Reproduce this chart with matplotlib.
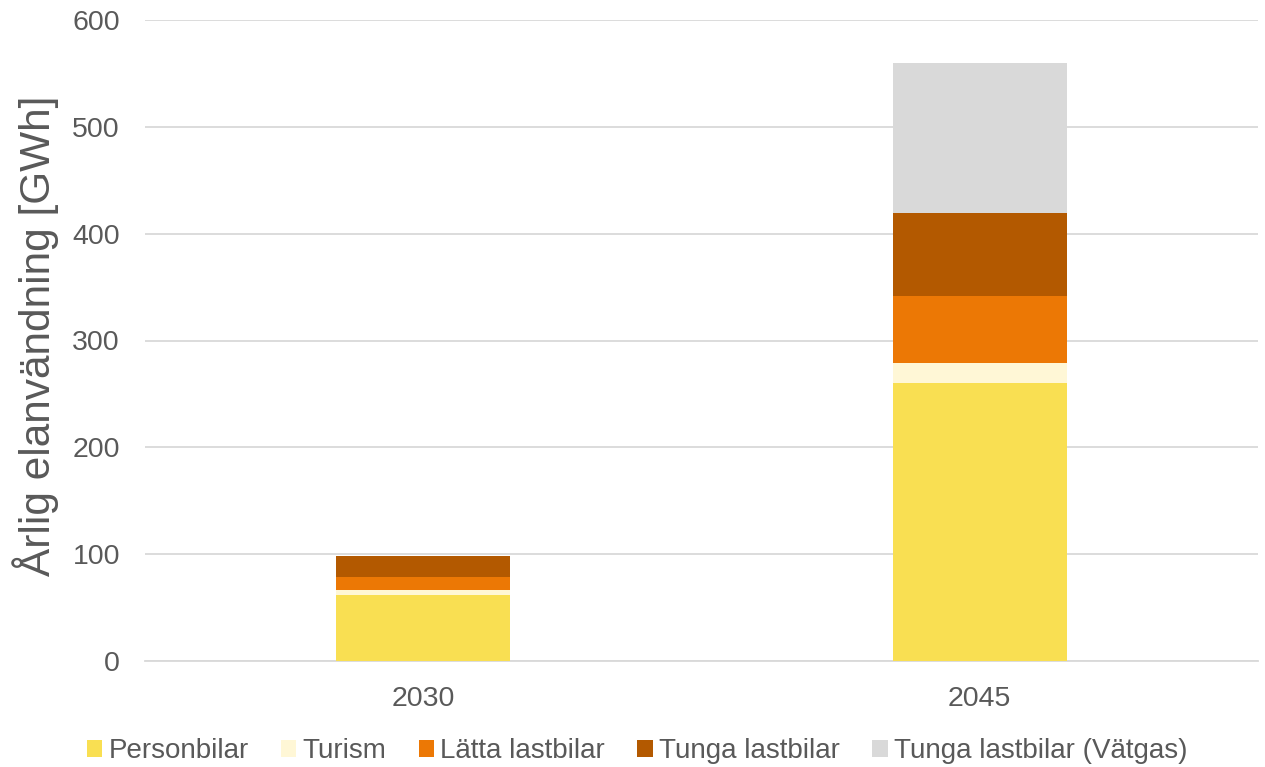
import matplotlib
matplotlib.use("Agg")
import matplotlib.pyplot as plt
import numpy as np

years = ["2030", "2045"]
series = ["Personbilar", "Turism", "Lätta lastbilar", "Tunga lastbilar", "Tunga lastbilar (Vätgas)"]
personbilar = [61.8, 260.5]
turism = [4.9, 18.7]
latta = [11.9, 62.5]
tunga = [19.7, 77.9]
vatgas = [0.0, 139.9]
colors = ["#F9DF52", "#FFF7D6", "#EC7805", "#B35900", "#D9D9D9"]
yticks = [0, 100, 200, 300, 400, 500, 600]

plt.rcParams['font.family'] = ['Liberation Sans', 'DejaVu Sans']
text_color = "#595959"

fig = plt.figure(figsize=(12.65, 7.67), dpi=100)
ax = fig.add_axes([145/1265, 1-661/767, 1113/1265, 641/767])

x = np.arange(len(years))
bottom = np.zeros(len(years))
for name, vals, c in zip(series, [personbilar, turism, latta, tunga, vatgas], colors):
    ax.bar(x, vals, width=0.313, bottom=bottom, color=c, label=name, zorder=3, edgecolor='none')
    bottom += np.array(vals)

ax.set_xlim(-0.5, 1.5)
ax.set_ylim(0, 600)
ax.set_yticks(yticks)
ax.set_xticks(x)
ax.set_xticklabels(years)
ax.grid(axis='y', color='#D9D9D9', linewidth=1.3, zorder=0)
ax.set_axisbelow(True)
for s in ['top', 'right', 'left']:
    ax.spines[s].set_visible(False)
ax.spines['bottom'].set_color('#D9D9D9')
ax.spines['bottom'].set_linewidth(1.3)
ax.tick_params(axis='both', length=0, labelsize=20.5, labelcolor=text_color)
ax.tick_params(axis='y', pad=18)
ax.tick_params(axis='x', pad=18)

ax.set_ylabel("Årlig elanvändning [GWh]", fontsize=30.5, color=text_color)
ax.yaxis.set_label_coords(-0.0775, 0.507)

handles, labels = ax.get_legend_handles_labels()
fig.legend(handles, labels, loc='center', bbox_to_anchor=(0.5036, 1-751/767), ncol=5,
           frameon=False, fontsize=20, handlelength=0.55, handleheight=0.55,
           handletextpad=0.22, columnspacing=1.17, labelcolor=text_color,
           borderaxespad=0)

fig.savefig("out.png", dpi=100)
